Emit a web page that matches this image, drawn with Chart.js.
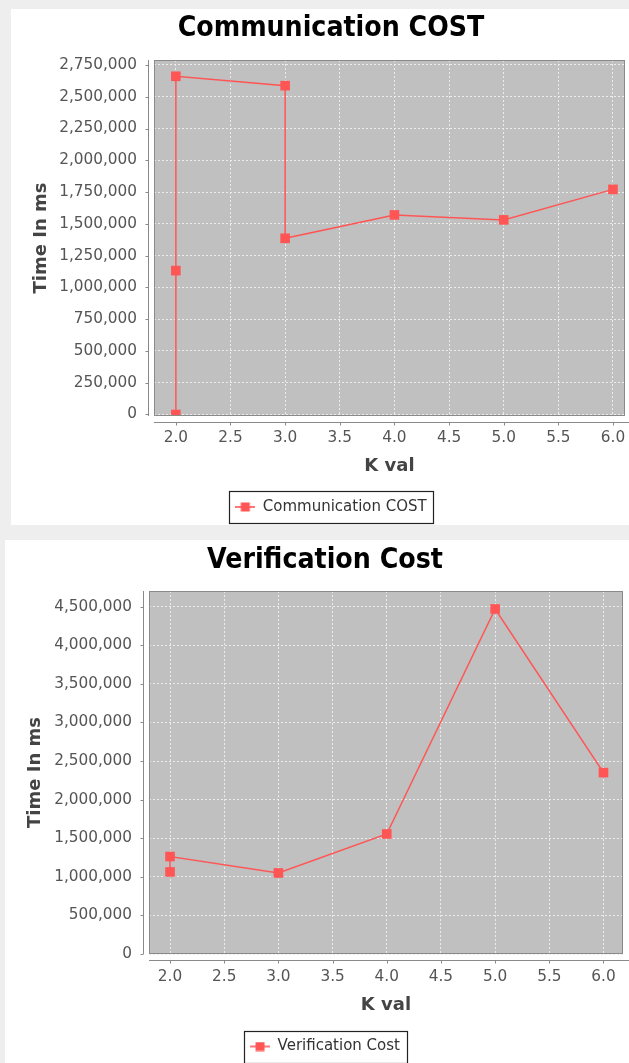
<!DOCTYPE html>
<html>
<head>
<meta charset="utf-8">
<script src="https://cdn.jsdelivr.net/npm/chart.js@4/dist/chart.umd.min.js"></script>
<style>
  html, body { margin: 0; padding: 0; }
  body { width: 629px; height: 1063px; overflow: hidden; background: #eeeeee; position: relative; }
  canvas { position: absolute; background: #ffffff; }
</style>
</head>
<body>
<canvas id="c1"></canvas>
<canvas id="c2"></canvas>
<script>
// ---------- data ----------
const kTicks = [2.0, 2.5, 3.0, 3.5, 4.0, 4.5, 5.0, 5.5, 6.0];

const commTitle = 'Communication COST';
const commK = [2.0, 2.0, 2.0, 3.0, 3.0, 4.0, 5.0, 6.0];
const commCost = [0, 1132000, 2661000, 2587000, 1386000, 1570000, 1531000, 1771000];
const commTicks = [0, 250000, 500000, 750000, 1000000, 1250000, 1500000, 1750000, 2000000, 2250000, 2500000, 2750000];

const verTitle = 'Verification Cost';
const verK = [2.0, 2.0, 3.0, 4.0, 5.0, 6.0];
const verCost = [1063000, 1263000, 1050000, 1555000, 4470000, 2350000];
const verTicks = [0, 500000, 1000000, 1500000, 2000000, 2500000, 3000000, 3500000, 4000000, 4500000];

const xTitle = 'K val';
const yTitle = 'Time In ms';

// ---------- style ----------
const RED = '#ff5555';
const TICK_FONT = {family: 'DejaVu Sans', size: 15.3};
const AXIS_FONT = {family: 'DejaVu Sans', size: 18, weight: 'bold'};
const TITLE_FONT = {family: '"DejaVu Sans Condensed", "DejaVu Sans"', size: 28.2, weight: 'bold'};
const LEGEND_FONT = {family: 'DejaVu Sans', size: 15};

// legend icon: line with square marker
function legendIcon() {
  const c = document.createElement('canvas');
  c.width = 20; c.height = 10;
  const g = c.getContext('2d');
  g.strokeStyle = RED; g.lineWidth = 1.6;
  g.beginPath(); g.moveTo(0, 5); g.lineTo(20, 5); g.stroke();
  g.fillStyle = RED; g.fillRect(5.5, 0.5, 9, 9);
  return c;
}

const jfreePlugin = {
  id: 'jfree',
  beforeDraw(chart) {
    const {ctx, chartArea: a} = chart;
    ctx.save();
    ctx.fillStyle = '#c0c0c0';
    ctx.fillRect(a.left, a.top, a.right - a.left, a.bottom - a.top);
    ctx.restore();
  },
  afterDraw(chart) {
    const {ctx, chartArea: a, scales} = chart;
    ctx.save();
    ctx.strokeStyle = '#8a8a8a';
    ctx.lineWidth = 1;
    ctx.strokeRect(Math.round(a.left) + 0.5, Math.round(a.top) + 0.5,
                   Math.round(a.right - a.left) - 1, Math.round(a.bottom - a.top) - 1);
    ctx.beginPath();
    const ax = Math.round(a.left - 6) + 0.5;
    ctx.moveTo(ax, a.top); ctx.lineTo(ax, a.bottom);
    scales.y.ticks.forEach(t => {
      const py = Math.round(scales.y.getPixelForValue(t.value)) + 0.5;
      ctx.moveTo(ax - 3, py); ctx.lineTo(ax, py);
    });
    const ay = Math.round(a.bottom + 6) + 0.5;
    ctx.moveTo(a.left, ay); ctx.lineTo(chart.width, ay);
    scales.x.ticks.forEach(t => {
      const px = Math.round(scales.x.getPixelForValue(t.value)) + 0.5;
      ctx.moveTo(px, ay); ctx.lineTo(px, ay + 3);
    });
    ctx.stroke();
    const hb = chart.legend && chart.legend.legendHitBoxes && chart.legend.legendHitBoxes[0];
    if (hb) {
      ctx.strokeStyle = '#222';
      ctx.lineWidth = 1.2;
      const top = Math.round(hb.top + hb.height / 2 - 16) + 0.5;
      ctx.strokeRect(Math.round(hb.left - 6) + 0.5, top, Math.round(hb.width + 13), 32);
    }
    ctx.restore();
  }
};

function makeChart(id, P, T, title, xs, ys, yTicks, range) {
  const cv = document.getElementById(id);
  cv.width = P.width; cv.height = P.height;
  cv.style.left = P.left + 'px'; cv.style.top = P.top + 'px';
  cv.style.width = P.width + 'px'; cv.style.height = P.height + 'px';

  const titleLH = TITLE_FONT.size * 1.2;
  const axisLH = AXIS_FONT.size * 1.2;
  const tickLH = TICK_FONT.size * 1.2;
  const padTop = (T.titleY - P.top) - titleLH / 2;
  const titlePadBottom = (T.plotTop - P.top) - padTop - titleLH;
  const legendCY = T.legendY - P.top;
  const legendTop = legendCY - 17.5;
  const padBottom = P.height - (legendCY + 17.5);
  const xAxisH = legendTop - (T.plotBottom - P.top);
  const xTickPad = (T.tickY - T.plotBottom) - tickLH / 2;
  const xTitlePad = legendTop - (T.xTitleY - P.top) - axisLH / 2;
  const yAxisW = T.plotLeft - P.left;
  const yTitlePad = (T.yTitleX - P.left) - axisLH / 2;
  const rightW = P.width - (T.plotRight - P.left);

  const pts = xs.map((x, i) => ({x: x, y: ys[i]}));

  return new Chart(cv, {
    type: 'scatter',
    data: {
      datasets: [{
        label: title,
        data: pts,
        showLine: true,
        borderColor: RED,
        backgroundColor: RED,
        borderWidth: 1.5,
        pointStyle: 'rect',
        pointRadius: 6.8,
        pointBorderWidth: 0,
        pointBackgroundColor: RED,
        tension: 0
      }]
    },
    options: {
      responsive: false,
      devicePixelRatio: 1,
      animation: false,
      layout: {padding: {top: padTop, bottom: padBottom, left: 0, right: 0}},
      plugins: {
        tooltip: {enabled: false},
        title: {
          display: true, text: title, color: '#000000', font: TITLE_FONT,
          padding: {top: 0, bottom: titlePadBottom}
        },
        legend: {
          display: true, position: 'bottom',
          labels: {
            usePointStyle: true, pointStyle: legendIcon(), pointStyleWidth: 20,
            font: LEGEND_FONT, color: '#333333', padding: 10
          }
        }
      },
      scales: {
        x: {
          type: 'linear', position: 'bottom',
          min: range.xMin, max: range.xMax,
          afterBuildTicks: s => { s.ticks = kTicks.map(v => ({value: v})); },
          afterFit: s => { s.height = xAxisH; },
          ticks: {
            font: TICK_FONT, color: '#555555', padding: xTickPad,
            autoSkip: false, maxRotation: 0,
            callback: v => Number(v).toFixed(1)
          },
          grid: {color: '#ececec', lineWidth: 1, drawTicks: false},
          border: {display: false, dash: [2, 2]},
          title: {display: true, text: xTitle, font: AXIS_FONT, color: '#444444', padding: {top: 0, bottom: xTitlePad}}
        },
        y: {
          type: 'linear', position: 'left',
          min: range.yMin, max: range.yMax,
          afterBuildTicks: s => { s.ticks = yTicks.map(v => ({value: v})); },
          afterFit: s => { s.width = yAxisW; },
          ticks: {
            font: TICK_FONT, color: '#555555', padding: 17, autoSkip: false,
            callback: v => Number(v).toLocaleString('en-US')
          },
          grid: {color: '#ececec', lineWidth: 1, drawTicks: false},
          border: {display: false, dash: [2, 2]},
          title: {display: true, text: yTitle, font: AXIS_FONT, color: '#444444', padding: {top: yTitlePad, bottom: 0}}
        },
        yR: {
          type: 'linear', position: 'right', display: true,
          ticks: {display: false},
          grid: {display: false, drawTicks: false},
          border: {display: false},
          afterFit: s => { s.width = rightW; }
        }
      }
    },
    plugins: [jfreePlugin]
  });
}

makeChart('c1',
  {left: 11, top: 9, width: 640, height: 516},
  {plotLeft: 154, plotTop: 60, plotRight: 625, plotBottom: 416,
   titleY: 28.5, legendY: 507, tickY: 438, xTitleY: 466, yTitleX: 41},
  commTitle, commK, commCost, commTicks,
  {xMin: 1.80, xMax: 6.11, yMin: -12000, yMax: 2789000});

makeChart('c2',
  {left: 5, top: 540, width: 640, height: 525},
  {plotLeft: 149, plotTop: 591, plotRight: 623, plotBottom: 954,
   titleY: 561, legendY: 1046.5, tickY: 977.5, xTitleY: 1005, yTitleX: 35},
  verTitle, verK, verCost, verTicks,
  {xMin: 1.806, xMax: 6.18, yMin: 0, yMax: 4703000});
</script>
</body>
</html>
